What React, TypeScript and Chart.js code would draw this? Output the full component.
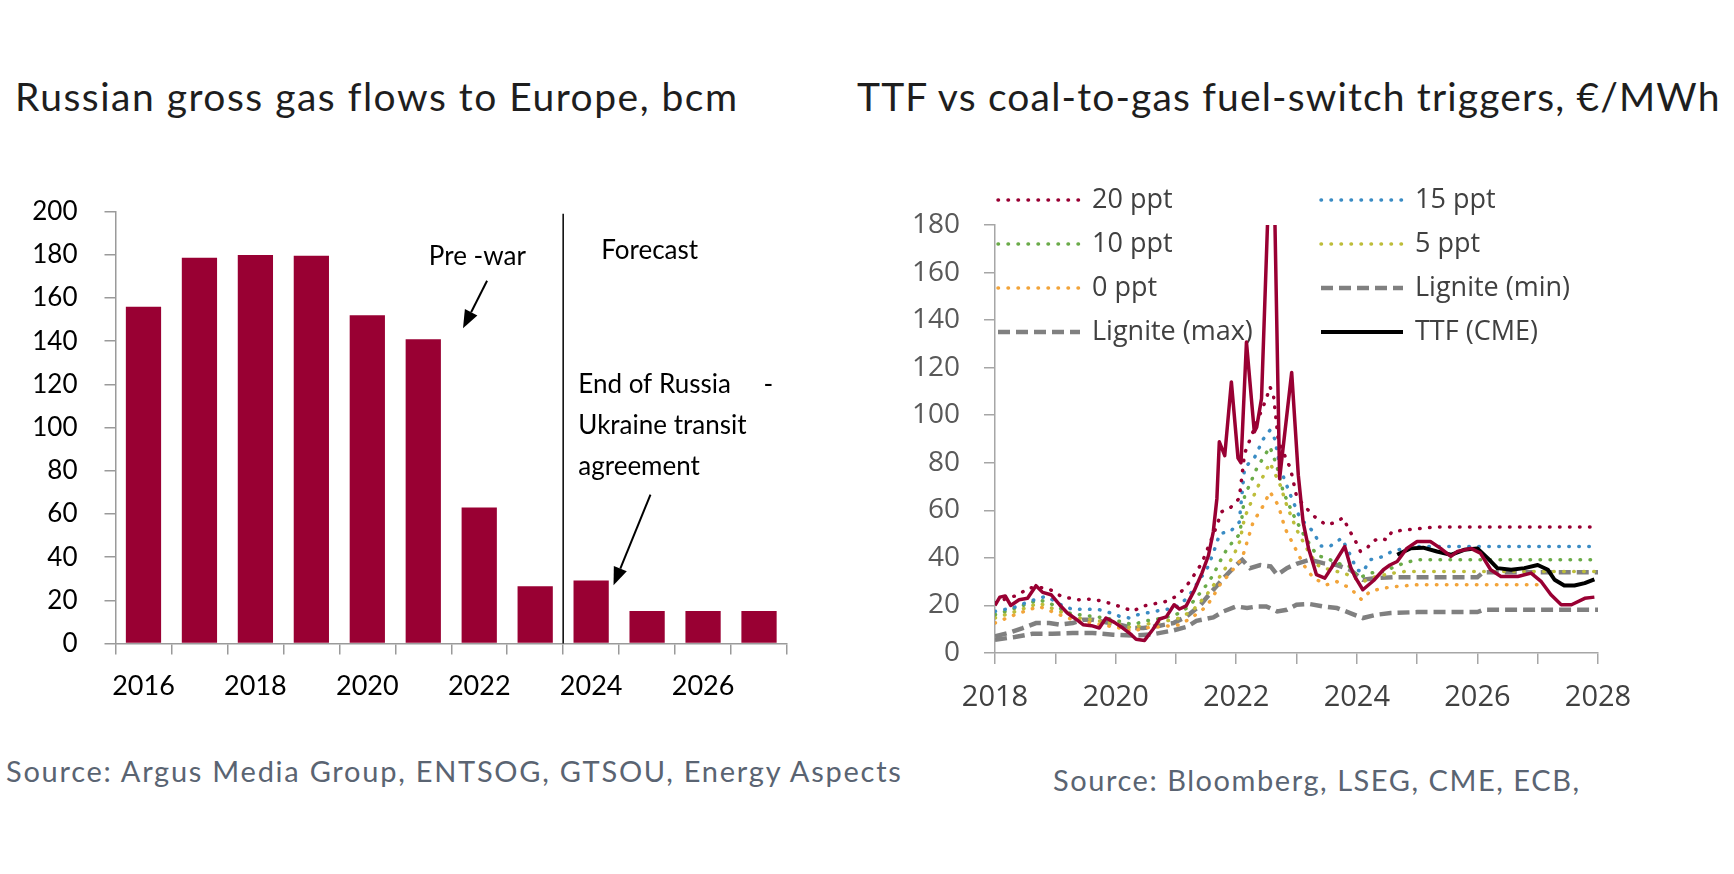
import React, { useEffect, useRef } from 'react';
import { Chart, registerables } from 'chart.js';

Chart.register(...registerables);

type Pt = [number, number];

// ---------- Left chart: Russian gross gas flows to Europe, bcm ----------
const flowYears = ['2016', '2017', '2018', '2019', '2020', '2021', '2022', '2023', '2024', '2025', '2026', '2027'];
const flowBcm = [156, 178.7, 180, 179.6, 152, 140.9, 63, 26.5, 29.2, 15.1, 15.1, 15.1];

// annotation anchors in data space (category index, bcm)
const forecastDivider = { idx: 7.5, top: 199 };
const flowNotes = [
  { text: 'Pre -war', idx: 5.1, val: 179 },
  { text: 'Forecast', idx: 8.18, val: 182 },
  { text: 'End of Russia', idx: 7.77, val: 120 },
  { text: '-', idx: 11.08, val: 120 },
  { text: 'Ukraine transit', idx: 7.77, val: 101 },
  { text: 'agreement', idx: 7.77, val: 82 },
];
const flowArrows = [
  { from: [6.14, 168], to: [5.71, 146] },
  { from: [9.06, 69], to: [8.4, 27] },
];

// ---------- Right chart: TTF vs coal-to-gas fuel-switch triggers ----------
const ttfHistory: Pt[] = [
  [2018.0, 20], [2018.08, 23.5], [2018.17, 24], [2018.26, 20], [2018.4, 22.4], [2018.54, 23],
  [2018.68, 28.3], [2018.79, 25.5], [2018.93, 24.5], [2019.07, 20.3], [2019.2, 16.8], [2019.34, 14.3],
  [2019.46, 11.9], [2019.6, 11.5], [2019.73, 10.5], [2019.84, 14.7], [2019.98, 12.9], [2020.12, 10.5],
  [2020.23, 8.4], [2020.34, 5.8], [2020.48, 5.3], [2020.62, 10], [2020.73, 14.3], [2020.84, 15.2],
  [2020.97, 20.3], [2021.06, 18.5], [2021.17, 19.8], [2021.3, 26], [2021.43, 33.5], [2021.54, 41],
  [2021.62, 51], [2021.68, 65], [2021.72, 88.8], [2021.81, 83], [2021.92, 114], [2022.03, 82],
  [2022.08, 80], [2022.17, 130.8], [2022.3, 93], [2022.34, 95], [2022.42, 107], [2022.6, 240],
  [2022.72, 73.4], [2022.92, 118], [2023.03, 74.8], [2023.11, 55], [2023.2, 44], [2023.33, 33],
  [2023.47, 31.5], [2023.61, 37], [2023.8, 44.8], [2023.9, 36], [2023.97, 32], [2024.1, 26.6],
  [2024.28, 30.5], [2024.44, 35], [2024.55, 37], [2024.67, 38.5], [2024.83, 44], [2025.0, 46.9],
  [2025.22, 46.9], [2025.39, 44], [2025.56, 40.6], [2025.67, 42.7], [2025.89, 44], [2026.05, 42],
  [2026.22, 35], [2026.39, 32.2], [2026.67, 32.2], [2026.89, 33.6], [2027.06, 30], [2027.22, 24.5],
  [2027.39, 20.3], [2027.56, 20.3], [2027.78, 23], [2027.94, 23.5],
];
const ttfCme: Pt[] = [
  [2024.67, 41.3], [2024.89, 44], [2025.1, 44.3], [2025.33, 42.7], [2025.56, 41.3], [2025.78, 43.4],
  [2026.0, 44], [2026.17, 39.9], [2026.33, 35.7], [2026.56, 35], [2026.78, 35.7], [2027.0, 37],
  [2027.17, 35], [2027.28, 30.8], [2027.44, 28.4], [2027.61, 28.4], [2027.78, 29.4], [2027.94, 31],
];
const ppt20: Pt[] = [
  [2018.0, 21], [2018.2, 23], [2018.4, 24.5], [2018.54, 27.3], [2018.7, 27.7], [2018.9, 26.9],
  [2019.1, 23.8], [2019.37, 22.4], [2019.6, 22.7], [2019.8, 21.7], [2019.98, 20.3], [2020.15, 18.9],
  [2020.29, 17.5], [2020.43, 19.6], [2020.57, 20.3], [2020.7, 21], [2020.84, 21.7], [2020.98, 23.5],
  [2021.12, 26.6], [2021.23, 30], [2021.34, 34.3], [2021.43, 37.8], [2021.54, 44.8], [2021.65, 51.7],
  [2021.76, 59.4], [2021.9, 61], [2022.05, 65], [2022.14, 84], [2022.34, 97], [2022.5, 107],
  [2022.56, 112], [2022.62, 108], [2022.7, 89], [2022.9, 77.6], [2023.0, 66], [2023.12, 62],
  [2023.33, 56.6], [2023.5, 53.8], [2023.67, 55.2], [2023.77, 56.9], [2023.89, 51], [2023.97, 47.5],
  [2024.06, 42.7], [2024.17, 44], [2024.25, 46.9], [2024.39, 48.3], [2024.5, 47.5], [2024.58, 51],
  [2024.78, 51.7], [2025.06, 52.4], [2025.3, 53], [2028.0, 53],
];
const ppt15: Pt[] = [
  [2018.0, 17.5], [2018.3, 19], [2018.6, 22], [2018.84, 23.8], [2018.95, 22.4], [2019.12, 19.9],
  [2019.3, 18.2], [2019.45, 18.5], [2019.73, 18.2], [2019.9, 17], [2020.07, 15.4], [2020.23, 14.7],
  [2020.37, 16.1], [2020.51, 16.8], [2020.65, 17.5], [2020.8, 18.2], [2020.98, 18.9], [2021.1, 21],
  [2021.23, 24.5], [2021.32, 28], [2021.43, 32.2], [2021.51, 35], [2021.62, 42], [2021.73, 50.3],
  [2021.9, 51], [2022.05, 55], [2022.14, 78], [2022.3, 82], [2022.45, 90], [2022.56, 93.7],
  [2022.64, 90], [2022.73, 77.6], [2022.9, 66.4], [2023.06, 56.6], [2023.28, 51], [2023.4, 45],
  [2023.55, 44.8], [2023.75, 48.3], [2023.89, 41.3], [2024.0, 35], [2024.1, 34], [2024.22, 39.2],
  [2024.44, 40.6], [2024.58, 42.7], [2024.78, 44], [2025.0, 44.8], [2028.0, 44.8],
];
const ppt10: Pt[] = [
  [2018.0, 16.1], [2018.35, 19], [2018.73, 22.4], [2018.9, 21], [2019.07, 18.9], [2019.23, 16.8],
  [2019.4, 16.1], [2019.62, 15.4], [2019.84, 14.7], [2020.07, 13.3], [2020.29, 11.9], [2020.46, 13.3],
  [2020.62, 14], [2020.79, 14.7], [2021.0, 16.1], [2021.18, 18.9], [2021.29, 21.7], [2021.4, 25.2],
  [2021.51, 28.7], [2021.62, 32.9], [2021.73, 38.5], [2021.84, 43.4], [2021.95, 47], [2022.06, 50],
  [2022.14, 66], [2022.34, 77.6], [2022.56, 86.7], [2022.67, 79], [2022.78, 67.8], [2022.95, 58],
  [2023.12, 49.7], [2023.34, 41], [2023.5, 39.9], [2023.67, 37.8], [2023.89, 36.4], [2024.03, 31.5],
  [2024.22, 33.6], [2024.44, 34.3], [2024.78, 37.8], [2025.0, 39.2], [2028.0, 39.2],
];
const ppt5: Pt[] = [
  [2018.0, 14.7], [2018.35, 17.5], [2018.73, 21], [2019.07, 17.5], [2019.4, 14.7], [2019.62, 14],
  [2020.07, 11.9], [2020.29, 10.5], [2020.46, 11.9], [2020.8, 13.3], [2021.07, 14.7], [2021.29, 18.2],
  [2021.51, 24.5], [2021.73, 32.2], [2021.95, 40.6], [2022.06, 47], [2022.14, 57], [2022.34, 69],
  [2022.56, 80], [2022.73, 70.6], [2022.84, 62], [2023.0, 52], [2023.17, 44], [2023.34, 37],
  [2023.55, 35], [2023.8, 33.5], [2024.0, 31], [2024.1, 30], [2024.3, 32], [2024.6, 33.6],
  [2024.8, 34.3], [2028.0, 34.3],
];
const ppt0: Pt[] = [
  [2018.0, 12.6], [2018.33, 16.1], [2018.73, 19.6], [2019.07, 16.1], [2019.29, 14], [2019.62, 12.6],
  [2020.07, 10.5], [2020.29, 9.1], [2020.46, 10.5], [2020.79, 11.2], [2021.07, 11.9], [2021.29, 15.4],
  [2021.51, 19.6], [2021.67, 26], [2021.73, 28.7], [2021.9, 33.6], [2022.1, 40], [2022.28, 55],
  [2022.45, 62], [2022.56, 67.8], [2022.7, 62], [2022.81, 52.4], [2022.95, 45.5], [2023.12, 37],
  [2023.28, 31.5], [2023.5, 28.7], [2023.67, 30], [2023.89, 27.3], [2024.08, 22.4], [2024.22, 25.9],
  [2024.44, 27.3], [2024.67, 28], [2025.0, 28.7], [2027.0, 28.7],
];
const ligniteMin: Pt[] = [
  [2018.0, 5.6], [2018.33, 6.7], [2018.62, 8.1], [2018.95, 8.1], [2019.29, 8.4], [2019.62, 8.4],
  [2019.96, 7.7], [2020.29, 7.3], [2020.62, 7.9], [2020.96, 9.5], [2021.18, 11], [2021.34, 13.5],
  [2021.62, 15], [2021.79, 17.5], [2022.0, 19.6], [2022.18, 18.9], [2022.35, 19.6], [2022.5, 19.6],
  [2022.68, 17.5], [2022.84, 18.2], [2023.0, 20.3], [2023.22, 20.6], [2023.44, 19.6], [2023.67, 18.9],
  [2023.89, 16.8], [2024.1, 14.7], [2024.33, 16.1], [2024.56, 16.8], [2025.0, 17.2], [2026.0, 17.2],
  [2026.1, 18.2], [2028.0, 18.2],
];
const ligniteMax: Pt[] = [
  [2018.0, 7], [2018.22, 8.4], [2018.46, 10.5], [2018.68, 12.6], [2018.9, 12.6], [2019.07, 11.9],
  [2019.29, 12.6], [2019.46, 14], [2019.62, 14], [2019.84, 12.9], [2020.07, 11.9], [2020.29, 10.5],
  [2020.46, 10.5], [2020.73, 11.5], [2020.96, 12.6], [2021.18, 15.4], [2021.4, 20], [2021.6, 26],
  [2021.79, 31.5], [2022.0, 37], [2022.1, 39.2], [2022.23, 35.7], [2022.4, 37], [2022.57, 36.4],
  [2022.68, 32.9], [2022.84, 35.7], [2023.0, 37.5], [2023.22, 39.2], [2023.44, 37.8], [2023.67, 37],
  [2023.89, 35], [2024.1, 30.8], [2024.33, 31.5], [2024.6, 31.9], [2026.0, 31.9], [2026.1, 34],
  [2028.0, 34],
];
const legendOrder = ['20 ppt', '15 ppt', '10 ppt', '5 ppt', '0 ppt', 'Lignite (min)', 'Lignite (max)', 'TTF (CME)'];

const CRIMSON = '#990033';
const DOTS = [0.5, 9.5];
const DASHES = [12, 6];

const toXY = (pts: Pt[]) => pts.map(([x, y]) => ({ x, y }));

function drawArrow(ctx: CanvasRenderingContext2D, x1: number, y1: number, x2: number, y2: number) {
  const ang = Math.atan2(y2 - y1, x2 - x1);
  const head = 18;
  const half = 7;
  const bx = x2 - head * Math.cos(ang);
  const by = y2 - head * Math.sin(ang);
  ctx.beginPath();
  ctx.moveTo(x1, y1);
  ctx.lineTo(bx, by);
  ctx.lineWidth = 2;
  ctx.strokeStyle = '#000';
  ctx.stroke();
  ctx.beginPath();
  ctx.moveTo(x2, y2);
  ctx.lineTo(bx + half * Math.sin(ang), by - half * Math.cos(ang));
  ctx.lineTo(bx - half * Math.sin(ang), by + half * Math.cos(ang));
  ctx.closePath();
  ctx.fillStyle = '#000';
  ctx.fill();
}

const flowNotesPlugin = {
  id: 'flowNotes',
  afterDatasetsDraw(chart: any) {
    const { ctx } = chart;
    const x = chart.scales.x;
    const y = chart.scales.y;
    ctx.save();
    const dx = x.getPixelForValue(forecastDivider.idx);
    ctx.beginPath();
    ctx.moveTo(dx, y.getPixelForValue(forecastDivider.top));
    ctx.lineTo(dx, y.getPixelForValue(0));
    ctx.lineWidth = 1.5;
    ctx.strokeStyle = '#000';
    ctx.stroke();
    ctx.font = '26px Lato';
    ctx.fillStyle = '#000';
    ctx.textAlign = 'left';
    ctx.textBaseline = 'middle';
    flowNotes.forEach((n) => ctx.fillText(n.text, x.getPixelForValue(n.idx), y.getPixelForValue(n.val)));
    flowArrows.forEach((a) =>
      drawArrow(
        ctx,
        x.getPixelForValue(a.from[0]),
        y.getPixelForValue(a.from[1]),
        x.getPixelForValue(a.to[0]),
        y.getPixelForValue(a.to[1])
      )
    );
    ctx.restore();
  },
};

const legendPlugin = {
  id: 'switchLegend',
  beforeDatasetsDraw(chart: any) {
    const { ctx, chartArea } = chart;
    ctx.save();
    legendOrder.forEach((label, k) => {
      const ds = chart.data.datasets.find((d: any) => d.label === label);
      if (!ds) return;
      const col = k % 2;
      const row = Math.floor(k / 2);
      const x0 = chartArea.left + 1 + col * 323;
      const yy = chartArea.top - 25 + row * 44;
      ctx.beginPath();
      ctx.setLineDash(ds.borderDash || []);
      ctx.lineCap = ds.borderCapStyle || 'butt';
      ctx.lineWidth = ds.borderWidth;
      ctx.strokeStyle = ds.borderColor;
      ctx.moveTo(x0 + 2, yy);
      ctx.lineTo(x0 + 84, yy);
      ctx.stroke();
      ctx.setLineDash([]);
      ctx.fillStyle = '#404040';
      ctx.font = '27px "Open Sans"';
      ctx.textAlign = 'left';
      ctx.textBaseline = 'middle';
      ctx.fillText(label, x0 + 96, yy);
    });
    ctx.restore();
  },
};

export default function App() {
  const leftRef = useRef<HTMLCanvasElement>(null);
  const rightRef = useRef<HTMLCanvasElement>(null);

  useEffect(() => {
    let left: Chart | null = null;
    let right: Chart | null = null;
    let cancelled = false;

    const build = () => {
      if (cancelled || !leftRef.current || !rightRef.current) return;
      left = new Chart(leftRef.current, {
        type: 'bar',
        data: {
          labels: flowYears,
          datasets: [
            {
              data: flowBcm,
              backgroundColor: CRIMSON,
              barPercentage: 0.63,
              categoryPercentage: 1,
            },
          ],
        },
        options: {
          responsive: false,
          animation: false,
          devicePixelRatio: 1,
          layout: { padding: { left: 0, top: 61.7, right: 33, bottom: 0 } },
          plugins: { legend: { display: false }, tooltip: { enabled: false } },
          scales: {
            x: {
              offset: true,
              grid: { display: true, drawOnChartArea: false, drawTicks: true, tickLength: 11, color: '#9a9a9a', lineWidth: 1.5, offset: true },
              border: { display: true, color: '#9a9a9a', width: 1.5 },
              ticks: {
                autoSkip: false,
                maxRotation: 0,
                padding: 16,
                color: '#000',
                font: { family: 'Lato', size: 27 },
                callback: (_v: any, i: number) => (i % 2 === 0 ? flowYears[i] : ''),
              },
              afterFit: (s: any) => {
                s.height = 76.5;
              },
            },
            y: {
              min: 0,
              max: 200,
              ticks: { stepSize: 20, padding: 27, color: '#000', font: { family: 'Lato', size: 26 } },
              grid: { drawOnChartArea: false, tickLength: 11, color: '#9a9a9a', lineWidth: 1.5 },
              border: { display: true, color: '#9a9a9a', width: 1.5 },
              afterFit: (s: any) => {
                s.width = 115.5;
              },
            },
          },
        } as any,
        plugins: [flowNotesPlugin],
      });

      const dotted = (label: string, pts: Pt[], color: string) => ({
        label,
        data: toXY(pts),
        borderColor: color,
        backgroundColor: color,
        borderWidth: 3.5,
        borderDash: DOTS,
        borderCapStyle: 'round',
        pointRadius: 0,
        tension: 0,
      });
      const dashed = (label: string, pts: Pt[]) => ({
        label,
        data: toXY(pts),
        borderColor: '#808080',
        backgroundColor: '#808080',
        borderWidth: 4.5,
        borderDash: DASHES,
        borderCapStyle: 'butt',
        pointRadius: 0,
        tension: 0,
      });

      right = new Chart(rightRef.current, {
        type: 'line',
        data: {
          datasets: [
            { label: 'TTF', data: toXY(ttfHistory), borderColor: CRIMSON, backgroundColor: CRIMSON, borderWidth: 3.5, pointRadius: 0, tension: 0, borderJoinStyle: 'round' },
            { label: 'TTF (CME)', data: toXY(ttfCme), borderColor: '#000', backgroundColor: '#000', borderWidth: 4, pointRadius: 0, tension: 0, borderJoinStyle: 'round' },
            dotted('20 ppt', ppt20, '#990033'),
            dotted('15 ppt', ppt15, '#3a8cc4'),
            dotted('10 ppt', ppt10, '#6aab48'),
            dotted('5 ppt', ppt5, '#bdbd3a'),
            dotted('0 ppt', ppt0, '#f2a43a'),
            dashed('Lignite (min)', ligniteMin),
            dashed('Lignite (max)', ligniteMax),
          ] as any,
        },
        options: {
          responsive: false,
          animation: false,
          devicePixelRatio: 1,
          layout: { padding: { left: 0, top: 75, right: 136, bottom: 0 } },
          plugins: { legend: { display: false }, tooltip: { enabled: false } },
          scales: {
            x: {
              type: 'linear',
              min: 2018,
              max: 2028,
              grid: { display: true, drawOnChartArea: false, drawTicks: true, tickLength: 11, color: '#a6a6a6', lineWidth: 1.5 },
              border: { display: true, color: '#a6a6a6', width: 1.5 },
              ticks: {
                stepSize: 1,
                autoSkip: false,
                maxRotation: 0,
                padding: 16,
                color: '#404040',
                font: { family: 'Open Sans', size: 29 },
                callback: (v: any) => (Number(v) % 2 === 0 ? String(v) : ''),
              },
              afterFit: (s: any) => {
                s.height = 77;
              },
            },
            y: {
              min: 0,
              max: 180,
              ticks: { stepSize: 20, padding: 24, color: '#595959', font: { family: 'Open Sans', size: 28 } },
              grid: { drawOnChartArea: false, tickLength: 11, color: '#a6a6a6', lineWidth: 1.5 },
              border: { display: true, color: '#a6a6a6', width: 1.5 },
              afterFit: (s: any) => {
                s.width = 145;
              },
            },
          },
        } as any,
        plugins: [legendPlugin],
      });
    };

    const fontsReady = (document as any).fonts
      ? Promise.all([
          (document as any).fonts.load('26px Lato'),
          (document as any).fonts.load('27px "Open Sans"'),
        ]).catch(() => null)
      : Promise.resolve(null);
    fontsReady.then(build);

    return () => {
      cancelled = true;
      if (left) left.destroy();
      if (right) right.destroy();
    };
  }, []);

  const titleStyle: React.CSSProperties = {
    position: 'absolute',
    fontFamily: 'Lato, sans-serif',
    fontSize: 39,
    lineHeight: 1,
    color: '#1e1e1e',
    whiteSpace: 'nowrap',
  };
  const sourceStyle: React.CSSProperties = {
    position: 'absolute',
    fontFamily: 'Lato, sans-serif',
    fontSize: 29,
    lineHeight: 1,
    color: '#5a6472',
    whiteSpace: 'nowrap',
  };

  return (
    <div style={{ position: 'absolute', left: 0, top: 0, width: 1734, height: 874, background: '#fff', overflow: 'hidden' }}>
      <div style={{ ...titleStyle, left: 15, top: 77, letterSpacing: 1.5 }}>Russian gross gas flows to Europe, bcm</div>
      <div style={{ ...titleStyle, left: 857, top: 77, letterSpacing: 1.15 }}>TTF vs coal-to-gas fuel-switch triggers, €/MWh</div>
      <canvas ref={leftRef} width={820} height={570} style={{ position: 'absolute', left: 0, top: 150, width: 820, height: 570 }} />
      <canvas ref={rightRef} width={884} height={580} style={{ position: 'absolute', left: 850, top: 150, width: 884, height: 580 }} />
      <div style={{ ...sourceStyle, left: 6, top: 756, letterSpacing: 1.75 }}>Source: Argus Media Group, ENTSOG, GTSOU, Energy Aspects</div>
      <div style={{ ...sourceStyle, left: 1053, top: 765, letterSpacing: 1.55 }}>Source: Bloomberg, LSEG, CME, ECB,</div>
    </div>
  );
}
